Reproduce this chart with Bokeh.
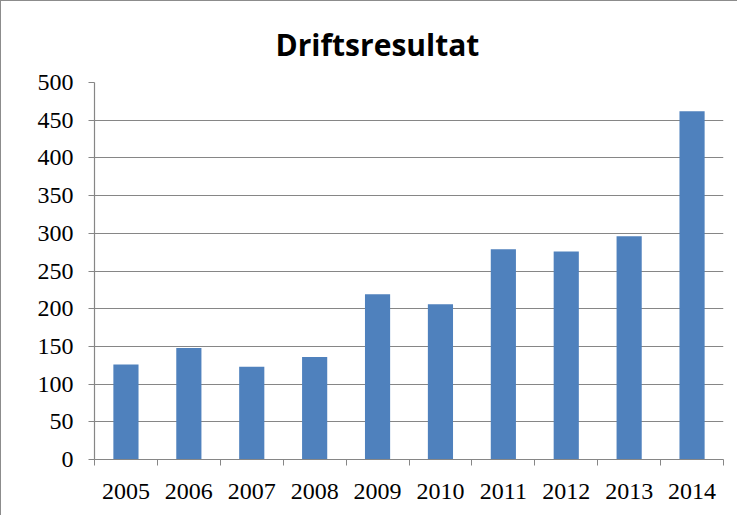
from bokeh.plotting import figure
from bokeh.models import Range1d, FixedTicker
from bokeh.embed import file_html
from bokeh.resources import INLINE

years = ["2005", "2006", "2007", "2008", "2009", "2010", "2011", "2012", "2013", "2014"]
values = [126, 148, 123, 136, 219, 206, 279, 276, 296, 462]
y_ticks = [0, 50, 100, 150, 200, 250, 300, 350, 400, 450, 500]

idx = list(range(len(years)))
centers = [i + 0.5 for i in idx]

p = figure(width=737, height=515, output_backend="svg", toolbar_location=None,
           x_range=Range1d(0, len(years)), y_range=Range1d(0, 500),
           min_border_left=93, min_border_right=15, min_border_top=81, min_border_bottom=57)
p.styles = {"border-left": "1px solid #8c8c8c", "border-top": "1px solid #8c8c8c"}

p.title.text = "Driftsresultat"
p.title.align = "left"
p.title.offset = 181
p.title.text_font = "Open Sans"
p.title.text_font_style = "bold"
p.title.text_font_size = "30px"
p.title.text_color = "#000000"
p.title.standoff = 36

p.vbar(x=centers, top=values, width=0.4, color="#4F81BD", line_color=None)

p.outline_line_color = None
p.background_fill_color = "white"
p.border_fill_color = "white"

grid_col = "#868686"
p.xgrid.visible = False
p.ygrid.ticker = FixedTicker(ticks=y_ticks)
p.ygrid.grid_line_color = grid_col
p.ygrid.grid_line_width = 1.2

# y axis
p.yaxis.ticker = FixedTicker(ticks=y_ticks)
p.yaxis.axis_line_color = grid_col
p.yaxis.axis_line_width = 1.2
p.yaxis.major_tick_line_color = grid_col
p.yaxis.major_tick_in = 0
p.yaxis.major_tick_out = 6
p.yaxis.minor_tick_line_color = None
p.yaxis.major_label_text_font = "Liberation Serif"
p.yaxis.major_label_text_font_size = "24px"
p.yaxis.major_label_text_color = "#000000"
p.yaxis.major_label_standoff = 15

# x axis
p.xaxis.ticker = FixedTicker(ticks=centers, minor_ticks=[float(i) for i in range(len(years) + 1)])
p.xaxis.major_label_overrides = {c: y for c, y in zip(centers, years)}
p.xaxis.axis_line_color = grid_col
p.xaxis.axis_line_width = 1.2
p.xaxis.major_tick_line_color = None
p.xaxis.major_tick_in = 0
p.xaxis.major_tick_out = 0
p.xaxis.minor_tick_line_color = grid_col
p.xaxis.minor_tick_in = 0
p.xaxis.minor_tick_out = 6
p.xaxis.major_label_text_font = "Liberation Serif"
p.xaxis.major_label_text_font_size = "24px"
p.xaxis.major_label_text_color = "#000000"
p.xaxis.major_label_standoff = 18

open("out.html", "w").write(file_html(p, INLINE))
